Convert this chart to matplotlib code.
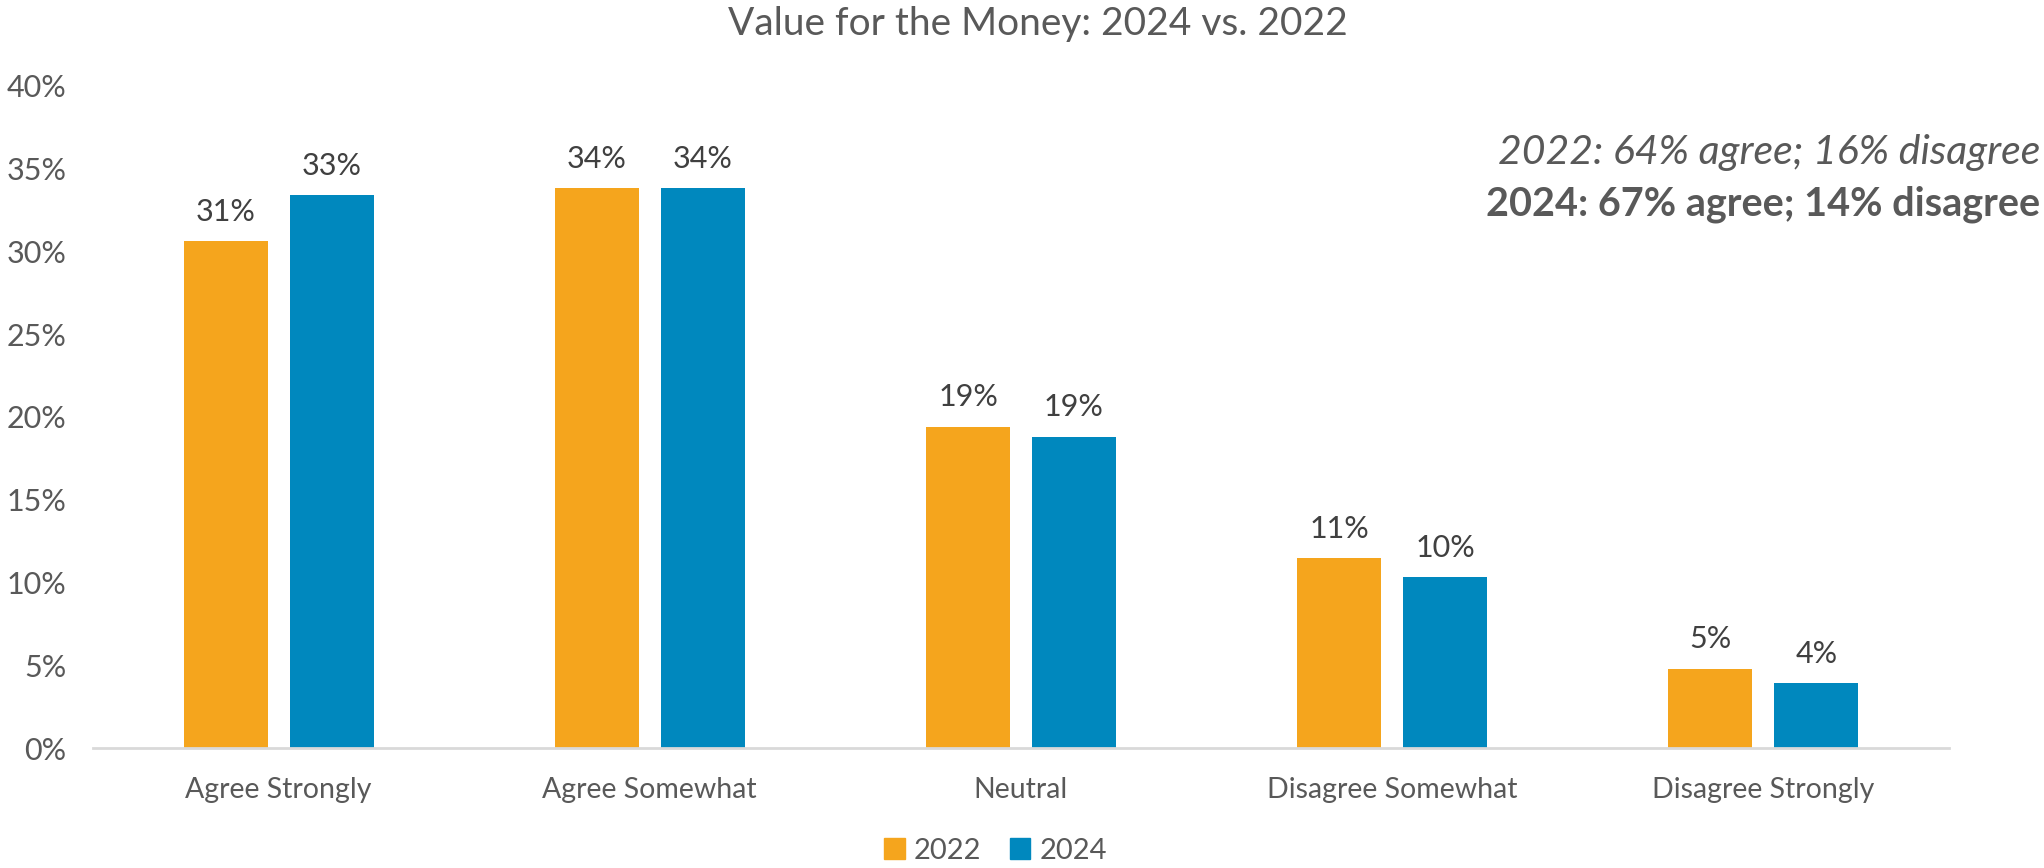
import numpy as np
import matplotlib
matplotlib.use("Agg")
import matplotlib.pyplot as plt
from matplotlib.patches import Patch

plt.rcParams['font.family'] = ['Lato', 'DejaVu Sans']

categories = ["Agree Strongly", "Agree Somewhat", "Neutral", "Disagree Somewhat", "Disagree Strongly"]
vals_2022 = [30.6, 33.8, 19.4, 11.45, 4.8]
vals_2024 = [33.4, 33.8, 18.8, 10.3, 3.9]
series_names = ["2022", "2024"]
note_2022 = "2022: 64% agree; 16% disagree"
note_2024 = "2024: 67% agree; 14% disagree"

orange = "#F5A51D"
blue = "#0088BE"
grey = "#595959"

fig = plt.figure(figsize=(20.44, 8.68), dpi=100)
ax = fig.add_axes([0.0455, 0.1382, 0.908, 0.7632])

x = np.arange(len(categories))
w = 0.226
off = 0.1427
b1 = ax.bar(x - off, vals_2022, w, color=orange)
b2 = ax.bar(x + off, vals_2024, w, color=blue)

for bars, vals in [(b1, vals_2022), (b2, vals_2024)]:
    for b, v in zip(bars, vals):
        ax.annotate(f"{v:.0f}%", (b.get_x() + b.get_width() / 2, v),
                    xytext=(0, 11), textcoords="offset points",
                    ha="center", va="bottom", fontsize=22, color="#404040")

ax.set_xlim(-0.5, len(categories) - 0.5)
ax.set_ylim(0, 40)
ax.set_yticks(np.arange(0, 41, 5))
ax.set_yticklabels([f"{t}%" for t in range(0, 41, 5)])
ax.set_xticks(x)
ax.set_xticklabels(categories)
ax.tick_params(axis="y", length=0, labelsize=22, labelcolor=grey, pad=19)
ax.tick_params(axis="x", length=0, labelsize=20.5, labelcolor=grey, pad=21)
for s in ["top", "right", "left"]:
    ax.spines[s].set_visible(False)
ax.spines["bottom"].set_color("#D9D9D9")
ax.spines["bottom"].set_linewidth(2)

fig.text(0.508, 0.972, "Value for the Money: 2024 vs. 2022", ha="center", va="center",
         fontsize=28, color=grey)
fig.text(0.998, 0.824, note_2022, ha="right", va="center", fontsize=29.5,
         style="italic", color=grey)
fig.text(0.998, 0.765, note_2024, ha="right", va="center", fontsize=28.5,
         fontweight="bold", color=grey)

handles = [Patch(color=orange), Patch(color=blue)]
fig.legend(handles, series_names, loc="center", bbox_to_anchor=(0.487, 0.02),
           ncol=2, frameon=False, fontsize=21, labelcolor=grey,
           handlelength=0.7, handleheight=0.7, handletextpad=0.3, columnspacing=1.0)

fig.savefig("out.png", dpi=100)
